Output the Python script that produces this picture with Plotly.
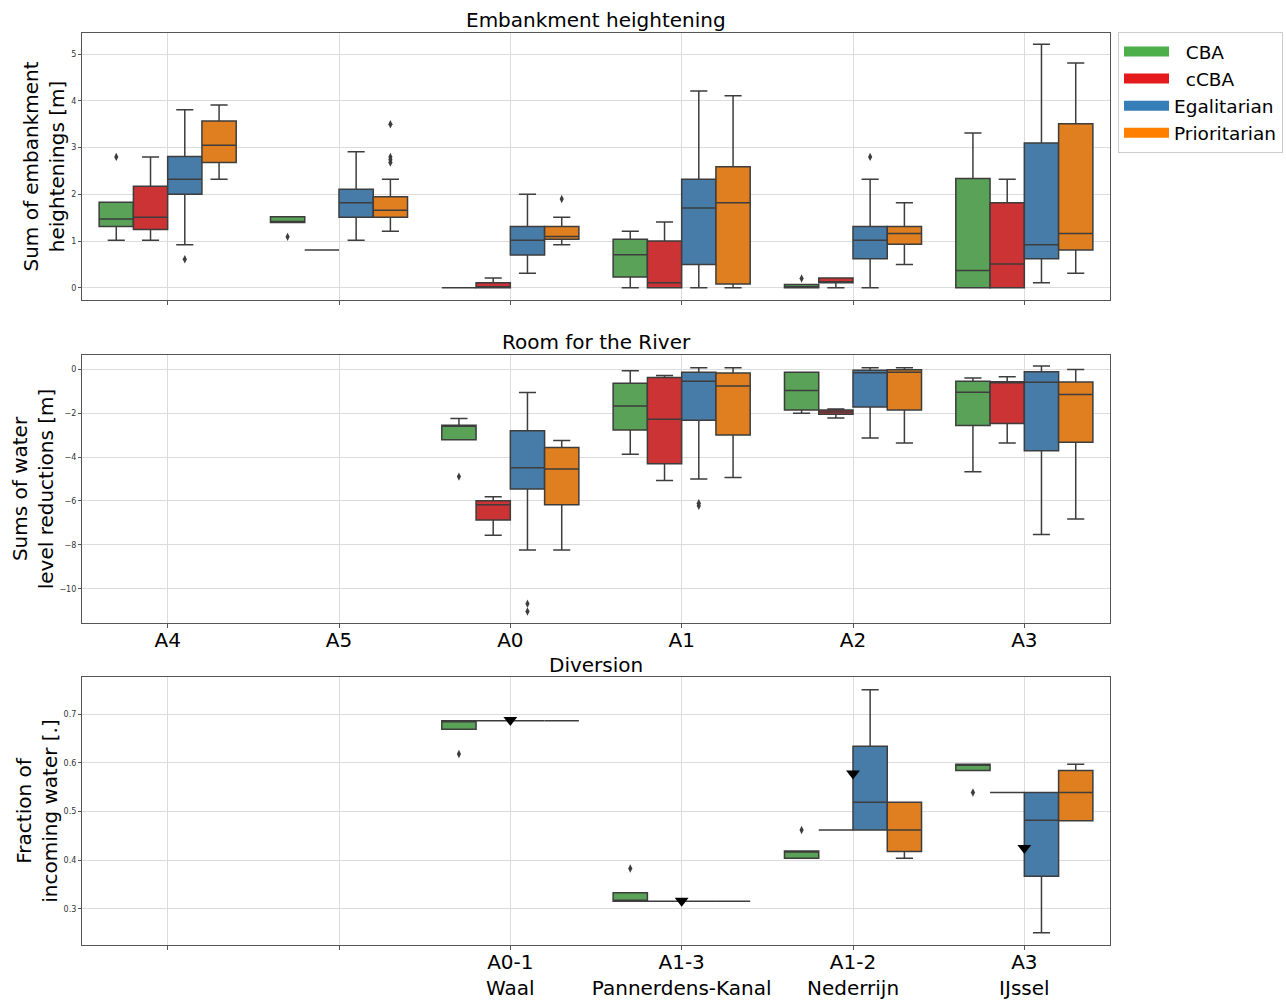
import plotly.graph_objects as go

# ---------------- data ----------------
series = ["CBA", "cCBA", "Egalitarian", "Prioritarian"]
legend_names = ["\u00a0\u00a0CBA", "\u00a0\u00a0cCBA", "Egalitarian", "Prioritarian"]
legend_colors = ["#4daf4a", "#e41a1c", "#377eb8", "#ff7f00"]
box_colors = ["#59a257", "#cb3335", "#477ca8", "#df7f20"]

cats = ["A4", "A5", "A0", "A1", "A2", "A3"]
div_labels = ["", "", "A0-1<br>Waal", "A1-3<br>Pannerdens-Kanal", "A1-2<br>Nederrijn", "A3<br>IJssel"]

# Embankment heightening: per series, per category (A4, A5, A0, A1, A2, A3)
emb_q1 = {
    "CBA": [1.31, 1.40, 0.00, 0.23, 0.00, 0.00],
    "cCBA": [1.25, 0.81, 0.00, 0.00, 0.11, 0.00],
    "Egalitarian": [2.00, 1.51, 0.70, 0.50, 0.62, 0.62],
    "Prioritarian": [2.68, 1.51, 1.04, 0.08, 0.93, 0.81],
}
emb_med = {
    "CBA": [1.47, 1.41, 0.00, 0.71, 0.00, 0.37],
    "cCBA": [1.51, 0.81, 0.00, 0.11, 0.11, 0.51],
    "Egalitarian": [2.32, 1.82, 1.02, 1.71, 1.02, 0.92],
    "Prioritarian": [3.05, 1.66, 1.10, 1.82, 1.16, 1.16],
}
emb_q3 = {
    "CBA": [1.83, 1.52, 0.00, 1.04, 0.07, 2.34],
    "cCBA": [2.17, 0.81, 0.11, 1.00, 0.21, 1.82],
    "Egalitarian": [2.81, 2.11, 1.31, 2.32, 1.31, 3.10],
    "Prioritarian": [3.57, 1.95, 1.31, 2.59, 1.31, 3.51],
}
emb_lo = {
    "CBA": [1.02, 1.40, 0.00, 0.00, 0.00, 0.00],
    "cCBA": [1.02, 0.81, 0.00, 0.00, 0.00, 0.00],
    "Egalitarian": [0.92, 1.02, 0.31, 0.00, 0.00, 0.11],
    "Prioritarian": [2.32, 1.21, 0.92, 0.00, 0.50, 0.31],
}
emb_hi = {
    "CBA": [1.83, 1.52, 0.00, 1.21, 0.07, 3.31],
    "cCBA": [2.80, 0.81, 0.21, 1.41, 0.21, 2.32],
    "Egalitarian": [3.81, 2.91, 2.00, 4.21, 2.32, 5.21],
    "Prioritarian": [3.91, 2.32, 1.51, 4.11, 1.82, 4.81],
}
emb_out_cat = {"CBA": [0, 1, 4], "cCBA": [], "Egalitarian": [0, 4], "Prioritarian": [1, 1, 1, 1, 2]}
emb_out_val = {"CBA": [2.80, 1.09, 0.20], "cCBA": [], "Egalitarian": [0.61, 2.80],
               "Prioritarian": [3.50, 2.80, 2.74, 2.68, 1.90]}

# Room for the River (no measures at A4, A5)
rfr_q1 = {
    "CBA": [None, None, -3.22, -2.77, -1.86, -2.57],
    "cCBA": [None, None, -6.87, -4.31, -2.06, -2.48],
    "Egalitarian": [None, None, -5.45, -2.33, -1.72, -3.72],
    "Prioritarian": [None, None, -6.17, -3.00, -1.86, -3.33],
}
rfr_med = {
    "CBA": [None, None, -2.60, -1.68, -0.98, -1.06],
    "cCBA": [None, None, -6.17, -2.28, -1.95, -0.60],
    "Egalitarian": [None, None, -4.49, -0.55, -0.17, -0.60],
    "Prioritarian": [None, None, -4.55, -0.77, -0.15, -1.16],
}
rfr_q3 = {
    "CBA": [None, None, -2.56, -0.65, -0.15, -0.55],
    "cCBA": [None, None, -5.99, -0.38, -1.86, -0.58],
    "Egalitarian": [None, None, -2.81, -0.15, -0.05, -0.12],
    "Prioritarian": [None, None, -3.57, -0.18, -0.03, -0.59],
}
rfr_lo = {
    "CBA": [None, None, -3.22, -3.87, -2.01, -4.67],
    "cCBA": [None, None, -7.56, -5.07, -2.22, -3.36],
    "Egalitarian": [None, None, -8.23, -5.00, -3.13, -7.53],
    "Prioritarian": [None, None, -8.23, -4.93, -3.36, -6.82],
}
rfr_hi = {
    "CBA": [None, None, -2.25, -0.08, -0.15, -0.41],
    "cCBA": [None, None, -5.81, -0.29, -1.82, -0.35],
    "Egalitarian": [None, None, -1.07, 0.06, 0.06, 0.14],
    "Prioritarian": [None, None, -3.25, 0.06, 0.06, -0.02],
}
rfr_out_cat = {"CBA": [2], "cCBA": [], "Egalitarian": [2, 2, 3, 3], "Prioritarian": []}
rfr_out_val = {"CBA": [-4.89], "cCBA": [], "Egalitarian": [-10.67, -11.03, -6.10, -6.22], "Prioritarian": []}

# Diversion (A0-1, A1-3, A1-2, A3 at positions 2..5)
div_q1 = {
    "CBA": [None, None, 0.669, 0.316, 0.404, 0.584],
    "cCBA": [None, None, 0.686, 0.316, 0.462, 0.539],
    "Egalitarian": [None, None, 0.686, 0.316, 0.462, 0.367],
    "Prioritarian": [None, None, 0.686, 0.316, 0.418, 0.481],
}
div_med = {
    "CBA": [None, None, 0.685, 0.317, 0.417, 0.596],
    "cCBA": [None, None, 0.686, 0.316, 0.462, 0.539],
    "Egalitarian": [None, None, 0.686, 0.316, 0.519, 0.482],
    "Prioritarian": [None, None, 0.686, 0.316, 0.462, 0.539],
}
div_q3 = {
    "CBA": [None, None, 0.686, 0.333, 0.419, 0.597],
    "cCBA": [None, None, 0.686, 0.316, 0.462, 0.539],
    "Egalitarian": [None, None, 0.686, 0.316, 0.634, 0.539],
    "Prioritarian": [None, None, 0.686, 0.316, 0.519, 0.584],
}
div_lo = {
    "CBA": [None, None, 0.669, 0.316, 0.404, 0.584],
    "cCBA": [None, None, 0.686, 0.316, 0.462, 0.539],
    "Egalitarian": [None, None, 0.686, 0.316, 0.462, 0.251],
    "Prioritarian": [None, None, 0.686, 0.316, 0.404, 0.481],
}
div_hi = {
    "CBA": [None, None, 0.686, 0.333, 0.419, 0.597],
    "cCBA": [None, None, 0.686, 0.316, 0.462, 0.539],
    "Egalitarian": [None, None, 0.686, 0.316, 0.750, 0.539],
    "Prioritarian": [None, None, 0.686, 0.316, 0.519, 0.597],
}
div_out_cat = {"CBA": [2, 3, 4, 5], "cCBA": [], "Egalitarian": [], "Prioritarian": []}
div_out_val = {"CBA": [0.618, 0.383, 0.462, 0.539], "cCBA": [], "Egalitarian": [], "Prioritarian": []}
div_ref_cat = [2, 3, 4, 5]
div_ref_val = [0.688, 0.317, 0.578, 0.425]

# ---------------- figure ----------------
FONT = "DejaVu Sans"
LINE = "#3d3d3d"
GRID = "#dcdcdc"
n_series = len(series)
group_width = 0.8
slot = group_width / n_series

fig = go.Figure()

panels = [
    ("x", "y", emb_q1, emb_med, emb_q3, emb_lo, emb_hi, emb_out_cat, emb_out_val),
    ("x2", "y2", rfr_q1, rfr_med, rfr_q3, rfr_lo, rfr_hi, rfr_out_cat, rfr_out_val),
    ("x3", "y3", div_q1, div_med, div_q3, div_lo, div_hi, div_out_cat, div_out_val),
]

for xa, ya, Q1, MED, Q3, LO, HI, OC, OV in panels:
    for k, s in enumerate(series):
        idx = [i for i, v in enumerate(Q1[s]) if v is not None]
        fig.add_trace(go.Box(
            x=idx,
            q1=[Q1[s][i] for i in idx],
            median=[MED[s][i] for i in idx],
            q3=[Q3[s][i] for i in idx],
            lowerfence=[LO[s][i] for i in idx],
            upperfence=[HI[s][i] for i in idx],
            name=s, legendgroup=s, showlegend=False,
            fillcolor=box_colors[k],
            line=dict(color=LINE, width=1.5),
            whiskerwidth=0.5, boxpoints=False,
            xaxis=xa, yaxis=ya, offsetgroup=s,
        ))
    for k, s in enumerate(series):
        if OC[s]:
            off = -group_width / 2 + slot * (k + 0.5)
            fig.add_trace(go.Scatter(
                x=[c + off for c in OC[s]], y=OV[s], mode="markers",
                marker=dict(symbol="diamond-tall", size=6, color=LINE),
                showlegend=False, xaxis=xa, yaxis=ya, hoverinfo="y",
            ))

# reference triangles in diversion panel
fig.add_trace(go.Scatter(
    x=div_ref_cat, y=div_ref_val, mode="markers",
    marker=dict(symbol="triangle-down", size=12, color="black"),
    showlegend=False, xaxis="x3", yaxis="y3",
))

# legend entries (wide colour patches)
for k, s in enumerate(series):
    fig.add_trace(go.Scatter(x=[None], y=[None], name=legend_names[k], mode="lines",
                             line=dict(color=legend_colors[k], width=13), showlegend=True))

W, H = 1286, 1000
xdom = [82 / W, 1110 / W]
ydoms = [[1 - 300 / H, 1 - 33 / H], [1 - 623 / H, 1 - 355 / H], [1 - 945 / H, 1 - 677 / H]]

xbase = dict(range=[-0.5, 5.5], tickmode="array", tickvals=list(range(6)),
             showgrid=True, gridcolor=GRID, gridwidth=1, zeroline=False,
             showline=True, linecolor="#555555", linewidth=1.2, mirror=True,
             ticks="outside", ticklen=4, tickcolor="#555555", ticklabelstandoff=-5,
             tickfont=dict(family=FONT, size=20, color="black"), domain=xdom)
ybase = dict(showgrid=True, gridcolor=GRID, gridwidth=1, zeroline=False,
             showline=True, linecolor="#555555", linewidth=1.2, mirror=True,
             ticks="outside", ticklen=3, tickcolor="#555555",
             tickfont=dict(family=FONT, size=8, color="#333333"), automargin=False)

fig.update_layout(
    width=W, height=H,
    margin=dict(l=0, r=0, t=0, b=0),
    paper_bgcolor="white", plot_bgcolor="white",
    font=dict(family=FONT, color="black"),
    boxmode="group", boxgap=0.2, boxgroupgap=0,
    xaxis=dict(xbase, anchor="y", showticklabels=False, ticktext=cats),
    xaxis2=dict(xbase, anchor="y2", ticktext=cats),
    xaxis3=dict(xbase, anchor="y3", ticktext=div_labels),
    yaxis=dict(ybase, anchor="x", domain=ydoms[0], range=[-0.26, 5.45],
               tickvals=[0, 1, 2, 3, 4, 5],
               title=dict(text="Sum of embankment<br>heightenings [m]", standoff=1,
                          font=dict(family=FONT, size=20))),
    yaxis2=dict(ybase, anchor="x2", domain=ydoms[1], range=[-11.55, 0.64],
                tickvals=[0, -2, -4, -6, -8, -10],
                title=dict(text="Sums of water<br>level reductions [m]", standoff=0,
                           font=dict(family=FONT, size=20))),
    yaxis3=dict(ybase, anchor="x3", domain=ydoms[2], range=[0.226, 0.776],
                tickvals=[0.3, 0.4, 0.5, 0.6, 0.7],
                title=dict(text="Fraction of<br>incoming water [.]", standoff=0,
                           font=dict(family=FONT, size=20))),
    legend=dict(x=1118 / W, y=1 - 32 / H, xanchor="left", yanchor="top",
                bordercolor="#cccccc", borderwidth=1, bgcolor="white",
                font=dict(family=FONT, size=18.5, color="black"),
                tracegroupgap=0, itemwidth=45),
    annotations=[
        dict(text="Embankment heightening", x=596 / W, y=1 - 20 / H, xref="paper", yref="paper",
             showarrow=False, font=dict(family=FONT, size=20, color="black"), yanchor="middle"),
        dict(text="Room for the River", x=596 / W, y=1 - 342 / H, xref="paper", yref="paper",
             showarrow=False, font=dict(family=FONT, size=20, color="black"), yanchor="middle"),
        dict(text="Diversion", x=596 / W, y=1 - 665 / H, xref="paper", yref="paper",
             showarrow=False, font=dict(family=FONT, size=20, color="black"), yanchor="middle"),
    ],
)

fig.write_html("out.html", config={"displayModeBar": False},
               post_script="document.body.style.margin='0px';document.body.style.padding='0px';")
